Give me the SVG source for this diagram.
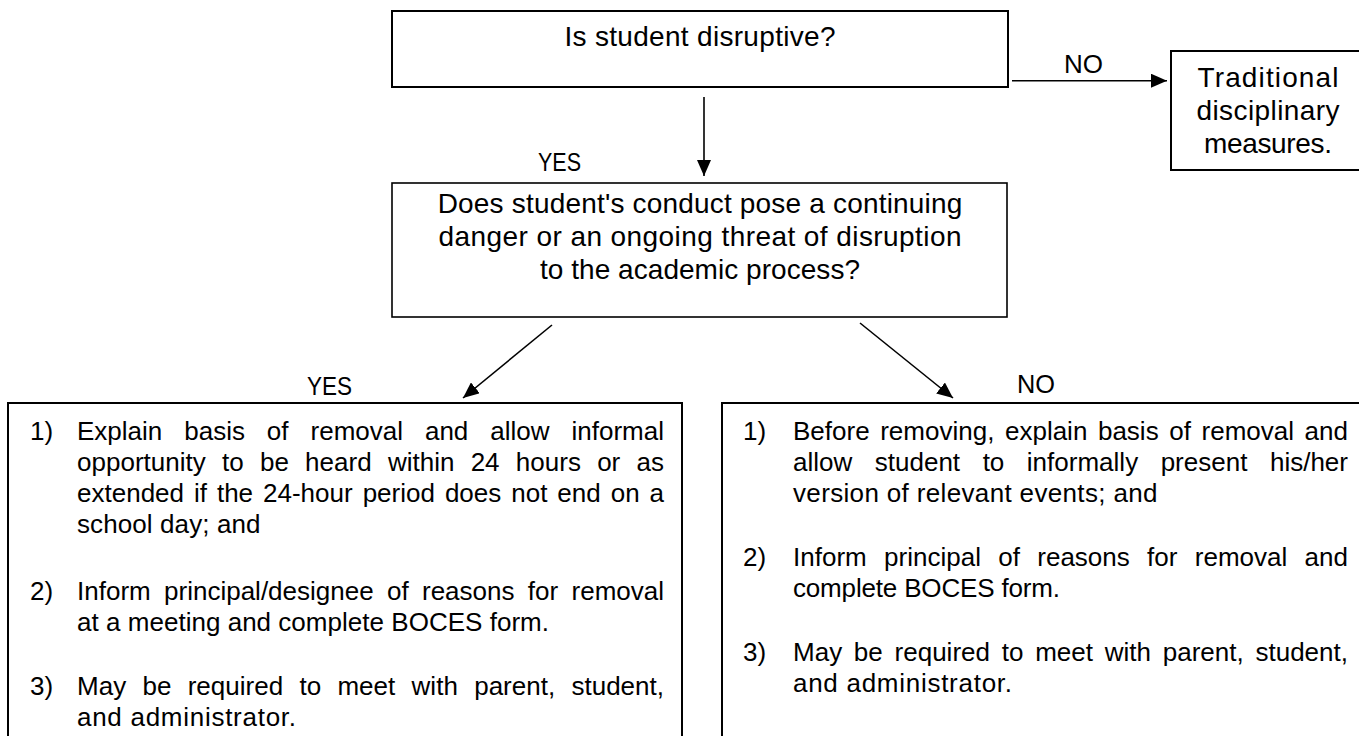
<svg xmlns="http://www.w3.org/2000/svg" width="1359" height="736" viewBox="0 0 1359 736">
<defs>
<style>
text { font-family: "Liberation Sans", Arial, sans-serif; fill: #000; }
.t31 { font-size: 28px; }
.t29 { font-size: 26px; }
.box { fill: #fff; stroke: #000; stroke-width: 2; }
.box2 { fill: #fff; stroke: #000; stroke-width: 1.6; }
.conn { stroke: #000; stroke-width: 1.6; fill: none; marker-end: url(#arr); }
</style>
<marker id="arr" markerUnits="userSpaceOnUse" markerWidth="16" markerHeight="14" refX="16" refY="7" orient="auto" viewBox="0 0 16 14">
<path d="M0,0 L16,7 L0,14 z" fill="#000"/>
</marker>
</defs>
<rect width="1359" height="736" fill="#fff"/>

<g id="q1">
<rect class="box" x="392" y="11" width="616" height="76"/>
<text class="t31" x="564.5" y="46" textLength="271" lengthAdjust="spacing">Is student disruptive?</text>
</g>

<g id="traditional">
<rect class="box" x="1171" y="51" width="200" height="119"/>
<text class="t31" x="1197.5" y="87" textLength="141" lengthAdjust="spacing">Traditional</text>
<text class="t31" x="1196.5" y="120" textLength="143" lengthAdjust="spacing">disciplinary</text>
<text class="t31" x="1204" y="153" textLength="128" lengthAdjust="spacing">measures.</text>
</g>

<g id="q2">
<rect class="box2" x="392" y="183" width="615" height="134"/>
<text class="t31" x="437.7" y="213" textLength="524.6" lengthAdjust="spacing">Does student's conduct pose a continuing</text>
<text class="t31" x="438.5" y="246" textLength="523" lengthAdjust="spacing">danger or an ongoing threat of disruption</text>
<text class="t31" x="540" y="279" textLength="320" lengthAdjust="spacing">to the academic process?</text>
</g>

<g id="yes-box">
<rect class="box" x="8" y="403" width="674" height="345"/>
<text class="t29" x="30" y="440">1)</text>
<text class="t29" x="77" y="440" word-spacing="14.7" textLength="587" lengthAdjust="spacing">Explain basis of removal and allow informal</text>
<text class="t29" x="77" y="471" word-spacing="9" textLength="587" lengthAdjust="spacing">opportunity to be heard within 24 hours or as</text>
<text class="t29" x="77" y="502" word-spacing="2.7" textLength="587" lengthAdjust="spacing">extended if the 24-hour period does not end on a</text>
<text class="t29" x="77" y="533" textLength="183.5" lengthAdjust="spacing">school day; and</text>
<text class="t29" x="30" y="600">2)</text>
<text class="t29" x="77" y="600" word-spacing="6.1" textLength="587" lengthAdjust="spacing">Inform principal/designee of reasons for removal</text>
<text class="t29" x="77" y="631" textLength="472" lengthAdjust="spacing">at a meeting and complete BOCES form.</text>
<text class="t29" x="30" y="695">3)</text>
<text class="t29" x="77" y="695" word-spacing="9.1" textLength="587" lengthAdjust="spacing">May be required to meet with parent, student,</text>
<text class="t29" x="77" y="726" textLength="219" lengthAdjust="spacing">and administrator.</text>
</g>

<g id="no-box">
<rect class="box" x="722" y="403" width="650" height="345"/>
<text class="t29" x="743" y="440">1)</text>
<text class="t29" x="793" y="440" word-spacing="3.4" textLength="555" lengthAdjust="spacing">Before removing, explain basis of removal and</text>
<text class="t29" x="793" y="471" word-spacing="15.3" textLength="555" lengthAdjust="spacing">allow student to informally present his/her</text>
<text class="t29" x="793" y="502" textLength="364.5" lengthAdjust="spacing">version of relevant events; and</text>
<text class="t29" x="743" y="566">2)</text>
<text class="t29" x="793" y="566" word-spacing="10.1" textLength="555" lengthAdjust="spacing">Inform principal of reasons for removal and</text>
<text class="t29" x="793" y="597" textLength="267" lengthAdjust="spacing">complete BOCES form.</text>
<text class="t29" x="743" y="661">3)</text>
<text class="t29" x="793" y="661" word-spacing="4.5" textLength="555" lengthAdjust="spacing">May be required to meet with parent, student,</text>
<text class="t29" x="793" y="692" textLength="219" lengthAdjust="spacing">and administrator.</text>
</g>

<g id="connectors">
<line class="conn" x1="704" y1="97" x2="704" y2="176"/>
<line class="conn" x1="1012" y1="80.7" x2="1167" y2="80.7"/>
<line class="conn" x1="552" y1="325" x2="463" y2="398"/>
<line class="conn" x1="860" y1="323" x2="953" y2="398"/>
<text class="t29" x="1064" y="73" textLength="39" lengthAdjust="spacingAndGlyphs">NO</text>
<text class="t29" x="538" y="171" textLength="43" lengthAdjust="spacingAndGlyphs">YES</text>
<text class="t29" x="307" y="395" textLength="45" lengthAdjust="spacingAndGlyphs">YES</text>
<text class="t29" x="1017" y="393" textLength="38" lengthAdjust="spacingAndGlyphs">NO</text>
</g>
</svg>
